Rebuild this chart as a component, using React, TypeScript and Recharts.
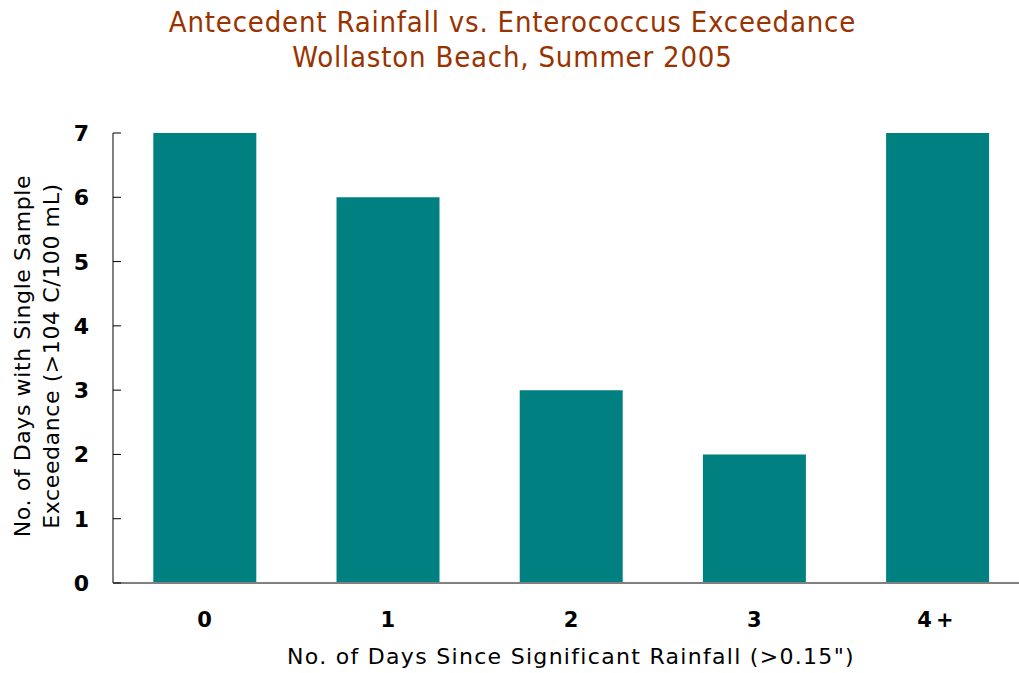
import { BarChart, Bar, XAxis, YAxis, Label } from "recharts";

const categories = ["0", "1", "2", "3", "4+"];
const exceedanceDays = [7, 6, 3, 2, 7];
const yTicks = [0, 1, 2, 3, 4, 5, 6, 7];

const data = categories.map((c, i) => ({ name: c, days: exceedanceDays[i] }));

const FONT = "'DejaVu Sans', Verdana, sans-serif";

const YTick = (props: any) => {
  const { x, y, payload } = props;
  return (
    <g>
      <line x1={x + 25} x2={x + 33} y1={y} y2={y} stroke="#000" strokeWidth={1} />
      <text x={x + 1} y={y} dy={8} textAnchor="end" fontFamily={FONT} fontWeight="bold" fontSize={22} fill="#000">
        {payload.value}
      </text>
    </g>
  );
};

const XTick = (props: any) => {
  const { x, y, payload } = props;
  return (
    <text x={x} y={y} dy={16} textAnchor="middle" fontFamily={FONT} fontWeight="bold" fontSize={21} fill="#000" letterSpacing={payload.value === "4+" ? 4 : 0}>
      {payload.value}
    </text>
  );
};

const YTitle = () => (
  <g fontFamily={FONT} fontSize={22} fill="#000" letterSpacing={0.6}>
    <text transform="translate(30,356) rotate(-90)" textAnchor="middle">
      No. of Days with Single Sample
    </text>
    <text transform="translate(59,356) rotate(-90)" textAnchor="middle">
      Exceedance (&gt;104 C/100 mL)
    </text>
  </g>
);

export default function App() {
  return (
    <div style={{ position: "absolute", left: 0, top: 0, width: 1019, height: 673, overflow: "hidden", background: "#fff" }}>
      <div
        style={{
          position: "absolute",
          left: 0,
          top: 5,
          width: 1025,
          textAlign: "center",
          fontFamily: "'DejaVu Sans Condensed', 'DejaVu Sans', sans-serif",
          fontSize: 29,
          letterSpacing: 0.8,
          lineHeight: "35px",
          color: "#993300",
        }}
      >
        <div>Antecedent Rainfall vs. Enterococcus Exceedance</div>
        <div>Wollaston Beach, Summer 2005</div>
      </div>
      <BarChart
        width={1030}
        height={673}
        data={data}
        margin={{ top: 133, right: 1, bottom: 0, left: 0 }}
        barCategoryGap="22%"
      >
        <XAxis
          dataKey="name"
          axisLine={{ stroke: "#808080", strokeWidth: 2 }}
          tickLine={false}
          tick={<XTick />}
          tickMargin={22}
          height={90}
        >
          <Label
            value={'No. of Days Since Significant Rainfall (>0.15")'}
            position="insideBottom"
            offset={9}
            style={{ fontFamily: FONT, fontSize: 22, fill: "#000", letterSpacing: 1.3 }}
          />
        </XAxis>
        <YAxis
          domain={[0, 7]}
          ticks={yTicks}
          interval={0}
          width={113}
          axisLine={{ stroke: "#808080", strokeWidth: 2 }}
          tickLine={false}
          tickSize={0}
          tickMargin={25}
          tick={<YTick />}
        >
          <Label content={<YTitle />} />
        </YAxis>
        <Bar dataKey="days" fill="#008080" isAnimationActive={false} />
      </BarChart>
    </div>
  );
}
